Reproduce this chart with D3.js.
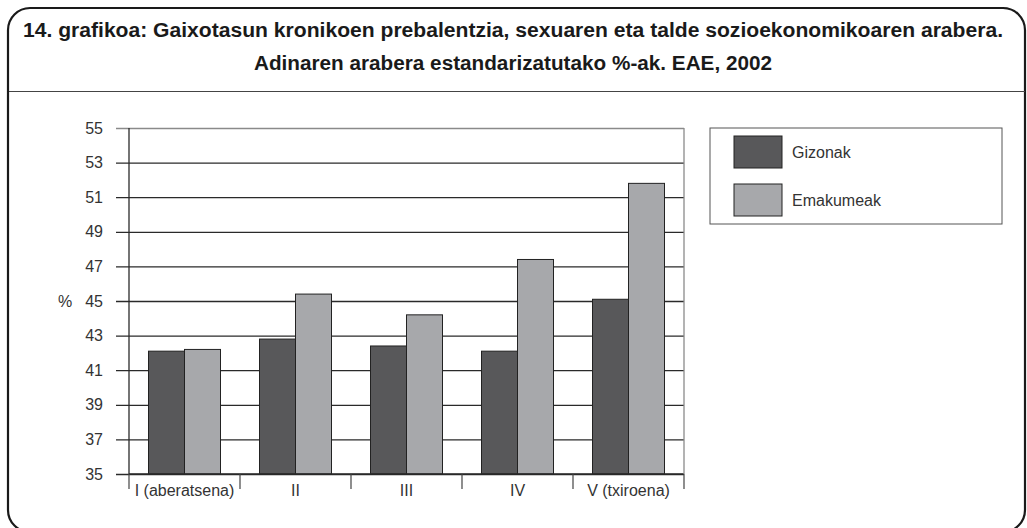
<!DOCTYPE html>
<html>
<head>
<meta charset="utf-8">
<script src="https://cdn.jsdelivr.net/npm/d3@7"></script>
<style>
  body { margin: 0; background: #fff; }
  svg { display: block; }
  svg text { font-family: "Liberation Sans", Arial, sans-serif; }
</style>
</head>
<body>
<div id="chart"></div>
<script>
// data
var categories = ["I (aberatsena)", "II", "III", "IV", "V (txiroena)"];
var seriesNames = ["Gizonak", "Emakumeak"];
var gizonak = [42.1, 42.8, 42.4, 42.1, 45.1];
var emakumeak = [42.2, 45.4, 44.2, 47.4, 51.8];
var yTicks = [35, 37, 39, 41, 43, 45, 47, 49, 51, 53, 55];
var titleLines = [
  "14. grafikoa: Gaixotasun kronikoen prebalentzia, sexuaren eta talde sozioekonomikoaren arabera.",
  "Adinaren arabera estandarizatutako %-ak. EAE, 2002"
];
var titleWidths = [980, 518];

var svgWidth = 1027;
var svgHeight = 528;
var colors = ["#58585a", "#a7a8ab"];

var svg = d3.select("#chart")
  .append("svg")
  .attr("width", svgWidth)
  .attr("height", svgHeight);

// rounded frame
svg.append("rect")
  .attr("x", 8).attr("y", 8)
  .attr("width", 1017).attr("height", 524)
  .attr("rx", 22).attr("ry", 22)
  .attr("fill", "none")
  .attr("stroke", "#1a1a1a")
  .attr("stroke-width", 2.2);

// title
svg.selectAll(".title")
  .data(titleLines)
  .enter()
  .append("text")
  .attr("class", "title")
  .attr("x", 513)
  .attr("y", function(d, i) { return 37 + i * 33; })
  .attr("text-anchor", "middle")
  .attr("font-weight", "bold")
  .attr("font-size", "20px")
  .attr("fill", "#1a1a1a")
  .attr("textLength", function(d, i) { return titleWidths[i]; })
  .attr("lengthAdjust", "spacingAndGlyphs")
  .text(function(d) { return d; });

svg.append("line")
  .attr("x1", 9).attr("x2", 1025)
  .attr("y1", 91.5).attr("y2", 91.5)
  .attr("stroke", "#444")
  .attr("stroke-width", 1);

// plot area
var margin = { top: 128, left: 129, right: 684, bottom: 474 };

var x0 = d3.scaleBand()
  .domain(categories)
  .range([margin.left, margin.right]);

var x1 = d3.scaleBand()
  .domain(seriesNames)
  .range([0, 72]);

var y = d3.scaleLinear()
  .domain([35, 55])
  .range([margin.bottom, margin.top]);

// gridlines with outward ticks
var yAxis = d3.axisLeft(y)
  .tickValues(yTicks)
  .tickSize(-(margin.right - margin.left))
  .tickSizeOuter(0);

var yG = svg.append("g")
  .attr("transform", "translate(" + margin.left + ",0)")
  .call(yAxis);
yG.select(".domain").remove();
yG.selectAll(".tick line")
  .attr("x1", -13)
  .attr("stroke", "#2a2a2a")
  .attr("stroke-width", 1.3);
yG.selectAll(".tick").filter(function(d) { return d === 55; })
  .select("line").attr("stroke", "#8a8a8a");
yG.selectAll(".tick text")
  .attr("font-size", "16px")
  .attr("fill", "#333")
  .attr("x", -26);

svg.append("text")
  .attr("x", 65)
  .attr("y", y(45))
  .attr("dy", "0.35em")
  .attr("text-anchor", "middle")
  .attr("font-size", "16px")
  .attr("fill", "#333")
  .text("%");

// bars
var rows = categories.map(function(c, i) {
  return { cat: c, vals: [gizonak[i], emakumeak[i]] };
});

var groups = svg.selectAll(".grp")
  .data(rows)
  .enter()
  .append("g")
  .attr("class", "grp")
  .attr("transform", function(d) {
    return "translate(" + (x0(d.cat) + (x0.bandwidth() - 72) / 2) + ",0)";
  });

groups.selectAll("rect")
  .data(function(d) {
    return d.vals.map(function(v, j) { return { name: seriesNames[j], value: v, j: j }; });
  })
  .enter()
  .append("rect")
  .attr("x", function(d) { return x1(d.name); })
  .attr("y", function(d) { return y(d.value); })
  .attr("width", x1.bandwidth())
  .attr("height", function(d) { return y(35) - y(d.value); })
  .attr("fill", function(d) { return colors[d.j]; })
  .attr("stroke", "#222")
  .attr("stroke-width", 1);

// x axis
var xAxis = d3.axisBottom(x0).tickSize(0).tickPadding(11);
var xG = svg.append("g")
  .attr("transform", "translate(0," + margin.bottom + ")")
  .call(xAxis);
xG.select(".domain").remove();
xG.selectAll(".tick text")
  .attr("font-size", "16px")
  .attr("fill", "#333");

svg.append("line")
  .attr("x1", margin.left).attr("x2", margin.right)
  .attr("y1", margin.bottom).attr("y2", margin.bottom)
  .attr("stroke", "#2a2a2a").attr("stroke-width", 1.3);

// category separators
var seps = [margin.left].concat(categories.map(function(c) { return x0(c) + x0.bandwidth(); }));
svg.selectAll(".sep")
  .data(seps)
  .enter()
  .append("line")
  .attr("class", "sep")
  .attr("x1", function(d) { return d; })
  .attr("x2", function(d) { return d; })
  .attr("y1", margin.bottom)
  .attr("y2", margin.bottom + 15)
  .attr("stroke", "#444")
  .attr("stroke-width", 1.2);

// left and right frame of plot
svg.append("line")
  .attr("x1", margin.left).attr("x2", margin.left)
  .attr("y1", margin.top).attr("y2", margin.bottom)
  .attr("stroke", "#2a2a2a").attr("stroke-width", 1.3);
svg.append("line")
  .attr("x1", margin.right).attr("x2", margin.right)
  .attr("y1", margin.top).attr("y2", margin.bottom)
  .attr("stroke", "#8a8a8a").attr("stroke-width", 1.3);

// legend
var legend = svg.append("g").attr("transform", "translate(710,128)");
legend.append("rect")
  .attr("width", 292).attr("height", 96)
  .attr("fill", "#fff")
  .attr("stroke", "#555")
  .attr("stroke-width", 1);

var li = legend.selectAll(".li")
  .data(seriesNames)
  .enter()
  .append("g")
  .attr("class", "li")
  .attr("transform", function(d, i) { return "translate(24," + (8 + i * 48) + ")"; });
li.append("rect")
  .attr("width", 48).attr("height", 32)
  .attr("fill", function(d, i) { return colors[i]; })
  .attr("stroke", "#222")
  .attr("stroke-width", 1);
li.append("text")
  .attr("x", 58).attr("y", 16)
  .attr("dy", "0.35em")
  .attr("font-size", "16px")
  .attr("fill", "#333")
  .text(function(d) { return d; });
</script>
</body>
</html>
